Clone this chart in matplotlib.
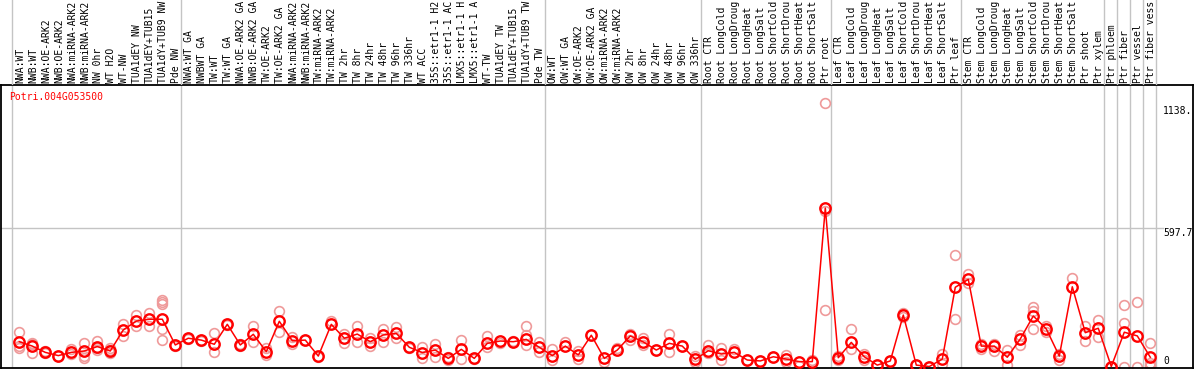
import matplotlib
matplotlib.use("Agg")
import matplotlib.pyplot as plt
import matplotlib.transforms as mtransforms

gene = "Potri.004G053500"

# sample names as they are displayed (14 characters at most)
samples = [
    "NWA:WT", "NWB:WT", "NWA:OE-ARK2", "NWB:OE-ARK2", "NWA:miRNA-ARK2", "NWB:miRNA-ARK2",
    "NW 0hr", "WT H2O", "WT-NW", "TUA1dEY NW", "TUA1dEY+TUB15", "TUA1dY+TUB9 NW", "Pde NW",
    "NWA:WT GA", "NWBWT GA", "TW:WT", "TW:WT GA", "NWA:OE-ARK2 GA", "NWB:OE-ARK2 GA",
    "TW:OE-ARK2", "TW:OE-ARK2 GA", "NWA:miRNA-ARK2", "NWB:miRNA-ARK2", "TW:miRNA-ARK2",
    "TW:miRNA-ARK2", "TW 2hr", "TW 8hr", "TW 24hr", "TW 48hr", "TW 96hr", "TW 336hr", "WT ACC",
    "35S::etr1-1 H2", "35S::etr1-1 AC", "LMX5::etr1-1 H", "LMX5::etr1-1 A", "WT-TW",
    "TUA1dEY TW", "TUA1dEY+TUB15", "TUA1dY+TUB9 TW", "Pde TW",
    "OW:WT", "OW:WT GA", "OW:OE-ARK2", "OW:OE-ARK2 GA", "OW:miRNA-ARK2", "OW:miRNA-ARK2",
    "OW 2hr", "OW 8hr", "OW 24hr", "OW 48hr", "OW 96hr", "OW 336hr",
    "Root CTR", "Root LongCold", "Root LongDroug", "Root LongHeat", "Root LongSalt",
    "Root ShortCold", "Root ShortDrou", "Root ShortHeat", "Root ShortSalt", "Ptr root",
    "Leaf CTR", "Leaf LongCold", "Leaf LongDroug", "Leaf LongHeat", "Leaf LongSalt",
    "Leaf ShortCold", "Leaf ShortDrou", "Leaf ShortHeat", "Leaf ShortSalt", "Ptr leaf",
    "Stem CTR", "Stem LongCold", "Stem LongDroug", "Stem LongHeat", "Stem LongSalt",
    "Stem ShortCold", "Stem ShortDrou", "Stem ShortHeat", "Stem ShortSalt", "Ptr shoot",
    "Ptr xylem", "Ptr phloem", "Ptr fiber", "Ptr vessel", "Ptr fiber vess",
]

means = [
    107, 88, 61, 47, 61, 67, 86, 67, 158, 196, 204, 204, 93,
    122, 114, 96, 182, 93, 139, 64, 195, 111, 114, 45, 182, 122, 140, 107, 136, 143,
    83, 60, 71, 35, 74, 35, 100, 110, 107, 117, 83,
    47, 88, 50, 135, 35, 71, 132, 106, 71, 100, 88, 31,
    68, 54, 61, 28, 24, 42, 32, 21, 21, 684,
    38, 104, 42, 6, 24, 222, 6, 0, 32, 342,
    376, 88, 88, 40, 119, 218, 162, 45, 344, 146,
    165, 0, 148, 132, 40,
]

replicates = [
    [148, 88, 78], [103, 60, 95], [65, 58], [47, 47], [74, 55], [100, 35, 45],
    [111, 70, 78], [78, 70, 58], [182, 132], [221, 175], [230, 175],
    [287, 278, 269, 160, 113], [93, 90],
    [125, 118], [116, 110], [143, 61], [185, 178], [96, 90], [175, 104], [78, 50],
    [240, 148], [128, 96], [114], [40], [196], [139, 100], [175, 104], [124, 90],
    [164, 104], [171, 125],
    [85, 80], [83, 35], [96, 42], [40, 30], [114, 34], [33], [132, 86], [100], [110],
    [175, 136, 93], [104, 61],
    [74, 28], [104], [68, 32], [135], [20], [78], [141, 115], [122, 93], [71],
    [140, 61], [88], [45, 20],
    [91, 57], [78, 28], [75], [28], [24], [42], [49, 20], [3], [28], [1138, 670, 245],
    [45, 28], [162, 76], [56, 28], [6], [24], [229, 212], [6], [0], [54, 11], [480, 204],
    [399, 360], [99, 76], [99, 66], [71, 6], [136, 94], [255, 162, 240], [176, 148],
    [56, 28], [381], [175, 111],
    [201, 126], [0, 0], [265, 186, 0], [277, 0], [100, 15, 8, 2],
]

# group boundaries (after these sample indices)
boundaries = [-1, 12, 40, 52, 62, 72, 83, 84, 85, 86, 87]

ymax_label = "1138."
ymax_value = 1138.4
ymid_value = 597.7

W, H = 1194, 370
fig = plt.figure(figsize=(W / 100, H / 100), dpi=100)

font = "DejaVu Sans Mono"
fs = 7.0

# main plot axes (pixel box x 1..1193, y 85..368)
ax = fig.add_axes([1 / W, (H - 368) / H, 1192 / W, 283 / H])
axt = fig.add_axes([1 / W, (H - 85) / H, 1192 / W, 85 / H], sharex=ax)

x = list(range(len(samples)))
ax.set_xlim(-1.4077, 90.285)
ax.set_ylim(-6.47, 1214.9)

grid_c = "#c4c4c4"
for b in boundaries:
    ax.axvline(b + 0.42, color=grid_c, lw=1.0, zorder=1)
    axt.axvline(b + 0.42, color=grid_c, lw=1.0, zorder=1)
ax.axhline(ymid_value, xmin=0, xmax=0.975, color=grid_c, lw=1.0, zorder=1)

# replicates
rx, ry = [], []
for i, reps in enumerate(replicates):
    for v in reps:
        rx.append(i)
        ry.append(v)
ax.plot(rx, ry, linestyle="none", marker="o", markersize=7.0, markerfacecolor="none",
        markeredgecolor="#ef9a9a", markeredgewidth=1.2, zorder=2)

ax.plot(x, means, color="#ff0000", lw=1.1, zorder=3)
ax.plot(x, means, linestyle="none", marker="o", markersize=7.5, markerfacecolor="none",
        markeredgecolor="#ff0000", markeredgewidth=1.7, zorder=4)

for s in ax.spines.values():
    s.set_color("black")
    s.set_linewidth(1.3)
ax.set_xticks([])
ax.set_yticks([])

# y labels on the right
trans = mtransforms.blended_transform_factory(ax.transAxes, ax.transData)
t1 = ax.text(0.9748, ymax_value, ymax_label, ha="left", va="top",
             fontsize=fs, family=font, color="black")
t1.set_transform(trans + mtransforms.ScaledTranslation(0, -3 / 100, fig.dpi_scale_trans))
ax.text(0.9748, ymid_value, f"{ymid_value}", transform=trans, ha="left", va="top",
        fontsize=fs, family=font, color="black")
t0 = ax.text(0.9748, 0, "0", ha="left", va="bottom",
             fontsize=fs, family=font, color="black")
t0.set_transform(trans + mtransforms.ScaledTranslation(0, 1 / 100, fig.dpi_scale_trans))

# gene title
ax.text(8 / 1192, 1 - 12 / 283, gene, transform=ax.transAxes, ha="left", va="center",
        fontsize=fs, family=font, color="#ff0000")

# top label axes
axt.set_ylim(0, 85)
axt.axis("off")
for i, s in enumerate(samples):
    axt.text(i + 0.05, 2, s, rotation=90, ha="center", va="bottom", fontsize=fs,
             family=font, color="black")

fig.savefig("out.png", dpi=100)
